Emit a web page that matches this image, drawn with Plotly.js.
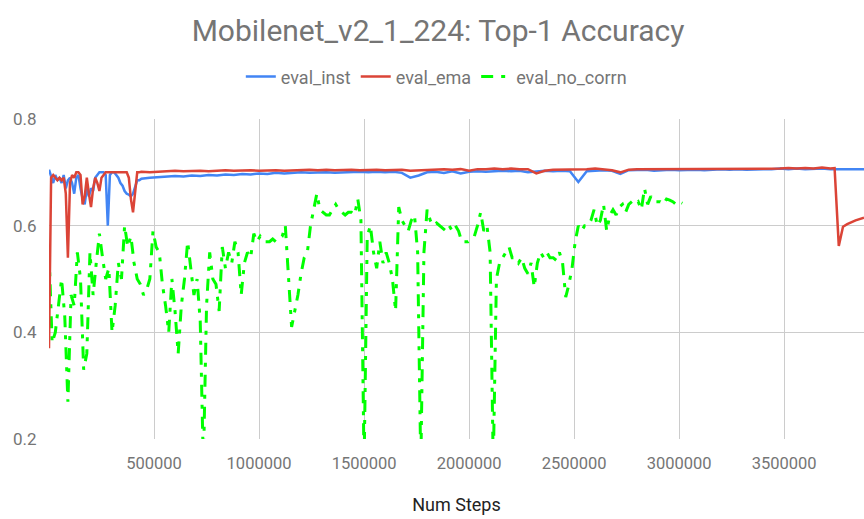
<!DOCTYPE html>
<html>
<head>
<meta charset="utf-8">
<script src="https://cdn.plot.ly/plotly-3.0.1.min.js"></script>
<style>html,body{margin:0;padding:0;background:#fff;}#chart{width:864px;height:519px;}</style>
</head>
<body>
<div id="chart"></div>
<script>
// ---- data ----
const stepsNoCorrn = [0,15000,30000,45000,60000,75000,90000,105000,120000,135000,150000,165000,180000,195000,210000,225000,240000,255000,270000,285000,300000,315000,330000,345000,360000,375000,390000,405000,420000,435000,450000,465000,480000,495000,510000,525000,540000,555000,570000,585000,600000,615000,630000,645000,660000,675000,690000,705000,720000,735000,750000,765000,780000,795000,810000,825000,840000,855000,870000,885000,900000,915000,930000,945000,960000,975000,990000,1005000,1020000,1035000,1050000,1065000,1080000,1095000,1110000,1125000,1140000,1155000,1170000,1185000,1200000,1215000,1230000,1245000,1260000,1275000,1290000,1305000,1320000,1335000,1350000,1365000,1380000,1395000,1410000,1425000,1440000,1455000,1470000,1485000,1500000,1515000,1530000,1545000,1560000,1575000,1590000,1605000,1620000,1635000,1650000,1665000,1680000,1695000,1710000,1725000,1740000,1755000,1770000,1785000,1800000,1815000,1830000,1845000,1860000,1875000,1890000,1905000,1920000,1935000,1950000,1965000,1980000,1995000,2010000,2025000,2040000,2055000,2070000,2085000,2100000,2115000,2130000,2145000,2160000,2175000,2190000,2205000,2220000,2235000,2250000,2265000,2280000,2295000,2310000,2325000,2340000,2355000,2370000,2385000,2400000,2415000,2430000,2445000,2460000,2475000,2490000,2505000,2520000,2535000,2550000,2565000,2580000,2595000,2610000,2625000,2640000,2655000,2670000,2685000,2700000,2715000,2730000,2745000,2760000,2775000,2790000,2805000,2820000,2835000,2850000,2865000,2880000,2895000,2910000,2925000,2940000,2955000,2970000,2985000,3000000,3015000];
const evalNoCorrn = [0.55,0.38,0.40,0.45,0.50,0.43,0.27,0.47,0.45,0.55,0.50,0.33,0.36,0.55,0.47,0.53,0.585,0.54,0.50,0.52,0.40,0.45,0.53,0.50,0.60,0.56,0.58,0.53,0.50,0.49,0.47,0.48,0.50,0.59,0.56,0.55,0.49,0.45,0.40,0.50,0.44,0.36,0.45,0.50,0.57,0.52,0.47,0.50,0.42,0.15,0.45,0.55,0.50,0.49,0.44,0.56,0.52,0.55,0.53,0.57,0.55,0.47,0.53,0.55,0.54,0.585,0.57,0.58,0.57,0.57,0.57,0.575,0.57,0.575,0.58,0.60,0.50,0.41,0.44,0.47,0.51,0.54,0.55,0.60,0.63,0.66,0.63,0.625,0.62,0.62,0.63,0.64,0.63,0.625,0.62,0.625,0.625,0.62,0.65,0.61,0.15,0.58,0.60,0.55,0.52,0.57,0.53,0.55,0.53,0.50,0.44,0.635,0.61,0.60,0.59,0.61,0.62,0.55,0.15,0.55,0.63,0.61,0.60,0.605,0.60,0.595,0.59,0.60,0.59,0.60,0.59,0.57,0.57,0.57,0.575,0.58,0.60,0.625,0.59,0.60,0.55,0.15,0.50,0.53,0.54,0.55,0.56,0.54,0.54,0.53,0.54,0.52,0.51,0.53,0.485,0.53,0.55,0.54,0.55,0.54,0.54,0.535,0.55,0.53,0.466,0.49,0.52,0.57,0.60,0.59,0.60,0.60,0.61,0.63,0.60,0.61,0.64,0.59,0.62,0.63,0.62,0.635,0.64,0.625,0.64,0.645,0.64,0.645,0.63,0.67,0.64,0.655,0.645,0.645,0.645,0.64,0.65,0.648,0.645,0.64,0.645,0.642];

const stepsInstEma = [0,10000,20000,30000,40000,50000,60000,70000,80000,90000,100000,110000,120000,130000,140000,150000,160000,170000,180000,190000,200000,210000,220000,230000,240000,250000,260000,270000,280000,290000,300000,310000,320000,330000,340000,350000,360000,370000,380000,390000,400000,410000,420000,430000,440000,
480000,520000,560000,600000,640000,680000,720000,760000,800000,840000,880000,920000,960000,1000000,1040000,1080000,1120000,1160000,1200000,1240000,1280000,1320000,1360000,1400000,1440000,1480000,1520000,1560000,1600000,1640000,1680000,1720000,1760000,1800000,1840000,1880000,1920000,1960000,2000000,2040000,2080000,2120000,2160000,2200000,2240000,2280000,2320000,2360000,2400000,2440000,2480000,2520000,2560000,2600000,2640000,2680000,2720000,2760000,2800000,2840000,2880000,2920000,2960000,3000000,3040000,3080000,3120000,3160000,3200000,3240000,3280000,3320000,3360000,3400000,3440000,3480000,3520000,3560000,3600000,3640000,3680000,3720000,3740000,3760000,3780000,3800000,3840000,3880000];

const evalInst = [0.705,0.69,0.68,0.695,0.685,0.69,0.68,0.695,0.67,0.685,0.69,0.68,0.66,0.69,0.695,0.67,0.65,0.64,0.67,0.655,0.67,0.665,0.69,0.695,0.70,0.70,0.70,0.695,0.60,0.695,0.70,0.70,0.695,0.69,0.68,0.675,0.665,0.66,0.658,0.655,0.66,0.675,0.685,0.685,0.688,
0.690,0.691,0.692,0.693,0.692,0.694,0.693,0.695,0.694,0.696,0.695,0.697,0.696,0.698,0.697,0.699,0.698,0.699,0.700,0.699,0.700,0.700,0.699,0.700,0.700,0.701,0.700,0.701,0.700,0.701,0.699,0.690,0.694,0.700,0.701,0.699,0.702,0.698,0.701,0.702,0.701,0.702,0.703,0.702,0.703,0.700,0.702,0.703,0.702,0.703,0.702,0.682,0.702,0.703,0.704,0.703,0.697,0.704,0.704,0.705,0.703,0.704,0.705,0.704,0.705,0.705,0.704,0.705,0.706,0.705,0.706,0.705,0.706,0.706,0.706,0.707,0.706,0.707,0.706,0.707,0.707,0.706,0.706,0.705,0.706,0.706,0.706,0.706];

const evalEma = [0.37,0.69,0.695,0.69,0.685,0.69,0.685,0.69,0.66,0.54,0.68,0.695,0.69,0.70,0.70,0.695,0.64,0.655,0.69,0.66,0.635,0.67,0.69,0.68,0.665,0.69,0.695,0.70,0.70,0.70,0.70,0.70,0.70,0.70,0.70,0.70,0.70,0.70,0.69,0.65,0.625,0.66,0.70,0.70,0.701,
0.700,0.701,0.702,0.703,0.702,0.703,0.703,0.702,0.703,0.704,0.703,0.704,0.704,0.703,0.704,0.704,0.703,0.704,0.704,0.705,0.704,0.705,0.704,0.705,0.705,0.704,0.705,0.705,0.704,0.705,0.705,0.703,0.704,0.705,0.705,0.706,0.705,0.706,0.703,0.706,0.706,0.707,0.706,0.707,0.706,0.706,0.698,0.703,0.705,0.705,0.706,0.706,0.706,0.707,0.706,0.704,0.700,0.705,0.706,0.706,0.707,0.706,0.706,0.707,0.706,0.707,0.707,0.706,0.707,0.707,0.707,0.706,0.707,0.707,0.707,0.707,0.708,0.707,0.708,0.707,0.709,0.707,0.708,0.562,0.598,0.603,0.610,0.615];

const seriesNames = ['eval_inst','eval_ema','eval_no_corrn'];
const yTicks = [0.2,0.4,0.6,0.8];
const xTicks = [500000,1000000,1500000,2000000,2500000,3000000,3500000];

// ---- chart ----
const grey = '#757575';
const traces = [
  {x: stepsInstEma, y: evalInst, name: seriesNames[0], type: 'scatter', mode: 'lines',
   line: {color: '#4285F4', width: 2.5}},
  {x: stepsInstEma, y: evalEma, name: seriesNames[1], type: 'scatter', mode: 'lines',
   line: {color: '#DB4437', width: 2.5}},
  {x: stepsNoCorrn, y: evalNoCorrn, name: seriesNames[2], type: 'scatter', mode: 'lines',
   line: {color: '#00FF00', width: 3, dash: '12px,8px,4px,8px'}}
];
const ordered = [traces[2], traces[0], traces[1]];

const layout = {
  width: 864, height: 519,
  margin: {l: 49, r: 0, t: 119, b: 80},
  paper_bgcolor: '#fff', plot_bgcolor: '#fff',
  font: {family: 'Roboto, Arial, sans-serif', color: grey, size: 16},
  title: {text: 'Mobilenet_v2_1_224: Top-1 Accuracy', x: 0.507, xanchor: 'center', xref: 'container',
          y: 0.942, yanchor: 'middle', yref: 'container', font: {size: 30, color: grey}},
  showlegend: true,
  legend: {orientation: 'h', x: 0.505, xanchor: 'center', xref: 'container', y: 0.852, yanchor: 'middle', yref: 'container',
           font: {size: 18, color: grey}, traceorder: 'normal', itemwidth: 30},
  xaxis: {range: [0, 3880000], tickvals: xTicks, ticktext: xTicks.map(String), showgrid: true, gridcolor: '#cccccc', gridwidth: 1,
          zeroline: false, showline: false, ticks: 'outside', ticklen: 9, tickcolor: 'rgba(0,0,0,0)',
          tickfont: {size: 16.5, color: grey},
          title: {text: 'Num Steps', font: {size: 18, color: '#222222'}, standoff: 26}},
  yaxis: {range: [0.2, 0.8], tickvals: yTicks, ticktext: yTicks.map(v => v.toFixed(1)), showgrid: true, gridcolor: '#cccccc', gridwidth: 1,
          zeroline: false, showline: false, ticks: 'outside', ticklen: 8, tickcolor: 'rgba(0,0,0,0)',
          tickfont: {size: 17, color: grey}}
};
ordered[0].legendrank = 3; ordered[1].legendrank = 1; ordered[2].legendrank = 2;
Plotly.newPlot('chart', ordered, layout, {displayModeBar: false, staticPlot: true});
</script>
</body>
</html>
